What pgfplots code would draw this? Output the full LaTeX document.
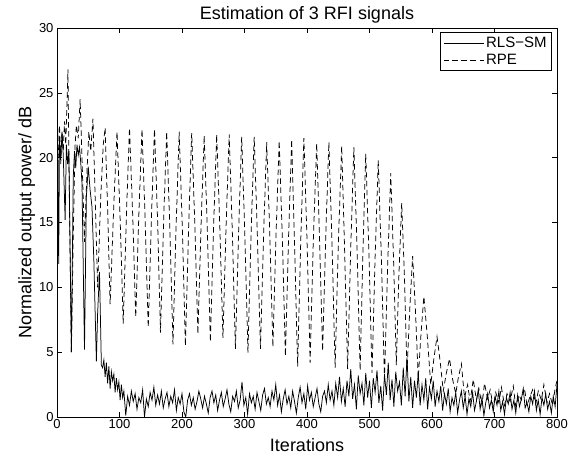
\documentclass[border=0pt]{standalone}
\usepackage{fontspec}
\setmainfont{Liberation Sans}
\usepackage{pgfplots}
\usepackage{pgfplotstable}
\pgfplotsset{compat=1.18}

\pgfplotstableread{
x y
0 28.4
2.7 11.8
4 21.5
6 19.8
8 22.0
10 20.2
13 15.2
15 21.0
17 19.5
19 20.5
23 5.0
26 18.5
28 20.5
30 19.2
32 21.0
34 20.2
36 20.8
38 19.6
40 18.0
44 5.2
47 17.0
50 19.3
53 17.5
56 16.2
59 12.0
63 4.3
65 8.0
68 11.2
71 4.0
73 3.8
75 4.4
77 3.1
79 4.2
81 2.6
83 3.9
85 2.2
87 3.5
89 2.8
91 3.3
93 1.9
95 3.0
97 2.1
99 2.7
101 1.3
103 2.5
105 1.5
107 2.0
110 0.1
113 1.6
116 0.9
119 2.0
122 1.2
125 1.8
128 0.6
131 1.5
134 1.1
137 2.1
140 0.0
143 1.4
146 0.8
149 1.9
152 1.3
155 2.3
158 0.9
161 1.7
164 1.0
167 2.0
170 0.7
173 1.4
176 1.9
179 0.8
182 1.6
185 1.1
188 2.1
191 0.5
194 1.5
197 1.0
200 1.8
203 0.4
206 0.0
209 1.3
212 1.8
215 0.9
218 1.5
221 0.6
224 1.2
227 2.0
230 1.4
233 0.7
236 1.6
239 1.0
242 0.3
245 1.5
248 2.0
251 1.1
254 1.7
257 0.5
260 1.3
263 1.9
266 0.8
269 1.4
272 2.1
275 1.0
278 0.4
281 1.6
284 1.2
287 2.0
290 0.7
293 1.3
296 2.7
299 0.9
302 1.5
305 0.2
308 1.8
311 1.1
314 1.6
317 0.6
320 1.9
323 1.2
326 0.5
329 1.7
332 2.2
335 1.0
338 1.5
341 0.8
344 2.0
347 1.3
350 2.5
353 0.9
356 1.7
359 0.4
362 1.4
365 2.1
368 1.0
371 1.6
374 0.7
377 2.0
380 1.2
383 0.3
386 1.5
389 2.3
392 1.1
395 1.8
398 0.6
401 2.4
404 1.3
407 1.9
410 0.8
413 1.5
416 2.2
419 1.0
422 0.4
425 1.6
428 2.0
431 1.1
434 2.5
437 1.3
440 2.0
443 0.9
446 2.6
449 1.5
452 3.1
455 1.2
458 2.2
461 0.8
464 2.8
467 1.6
470 3.7
473 1.4
476 2.5
479 0.6
482 3.2
485 1.8
488 2.6
491 0.9
494 3.4
497 1.5
500 2.8
503 0.7
506 3.0
509 1.9
512 3.6
515 1.1
518 2.4
521 0.5
524 3.3
527 1.7
530 4.2
533 1.3
536 2.9
539 0.8
542 3.5
545 2.0
548 2.7
551 0.9
554 3.8
557 1.6
560 4.6
563 1.2
566 3.1
569 0.7
572 2.8
575 1.5
578 3.4
581 0.9
584 2.5
587 1.3
590 3.0
593 0.6
596 2.3
599 1.4
602 2.8
605 0.8
608 2.0
611 1.2
614 2.4
617 0.5
620 1.8
623 1.0
626 2.2
629 0.4
632 1.5
635 0.9
638 1.9
641 0.3
644 1.3
647 2.0
650 0.7
653 1.6
656 0.2
659 1.4
662 0.8
665 1.9
668 0.5
671 1.2
674 2.1
677 0.6
680 1.5
683 0.1
686 1.1
689 1.8
692 0.7
695 1.3
698 0.4
701 1.6
704 0.9
707 2.0
710 0.5
713 1.2
716 0.2
719 1.5
722 1.0
725 1.9
728 0.6
731 1.3
734 0.3
737 1.7
740 0.8
743 1.4
746 2.2
749 0.7
752 1.1
755 0.4
758 1.6
761 1.0
764 2.0
767 0.5
770 1.3
773 0.2
776 1.5
779 0.9
782 1.8
785 0.6
788 1.2
791 0.3
794 1.6
797 0.8
800 2.5
}\rlssm

\pgfplotstableread{
x y
0 21.5
2 20.0
4 22.5
6 19.5
8 22.0
10 20.5
12 22.8
14 21.0
17.5 26.8
20 16.0
23 5.0
26 14.0
29 21.0
31 22.5
34 21.5
37 24.5
40 20.0
44 13.5
48 19.0
51 22.0
54 20.5
57.5 23.0
61 17.0
65 10.0
70 17.0
74 21.0
77 22.3
81 16.0
85 8.7
91 16.5
96 22.0
101 15.3
106 7.2
111 15.5
116 22.3
121 15.7
126 7.7
131 15.7
136 22.2
141 15.3
146 6.9
151 15.3
156 22.2
161 15.1
165.5 6.5
170.5 15.0
175.5 22.0
180.5 14.6
185.5 5.6
190.5 14.6
195.5 22.0
200.5 14.6
205.5 5.5
210.5 14.5
215.5 21.9
220.5 14.9
225.5 6.4
230.5 14.8
235.5 21.7
240.5 14.5
245.5 5.8
250.5 14.6
255.5 21.8
260.5 14.7
265.5 6.1
270.5 14.7
275.5 21.8
280.5 14.35
285.5 5.25
290.5 14.2
295.5 21.6
300.5 14.1
305.5 4.96
310.5 14.1
315.5 21.6
320.5 14.2
325.5 5.25
330.5 14.0
335.5 21.2
340.5 14.1
345.5 5.4
350.5 14.1
355.5 21.3
360.5 13.8
365.5 4.7
370.5 13.9
375.5 21.4
380 13.5
385 3.9
390 13.6
395 21.5
400 13.7
405 4.2
410 13.5
415.5 21.1
420 13.9
425 5.1
430 14.0
435 21.2
440 13.4
445 3.8
450 13.2
455.5 20.9
460 13.2
465 3.7
470 13.1
475 20.8
480 13.1
485 3.6
489.5 12.8
494 20.3
499 12.7
504 3.4
509 12.4
514 19.8
519 12.2
524 2.9
529 11.6
534 18.8
538.5 12.1
543 4.0
547 10.9
551.5 16.5
556 10.7
560 3.5
564.5 8.4
569 12.4
573.5 8.2
578 3.0
582.5 6.5
587 9.3
592.5 6.2
598 2.5
603 4.5
608 6.2
613 4.3
618 2.0
623 3.4
628 4.5
633 2.9
638 1.8
642 3.0
647 4.1
652 1.5
657 2.5
661 1.2
666 2.9
671 1.3
675 2.2
680 0.9
684 2.6
689 1.4
693 2.1
698 0.8
702 1.9
707 1.1
711 2.3
716 0.9
720 1.8
725 1.2
730 2.4
734 0.8
739 1.7
743 1.3
748 2.2
752 0.9
757 1.6
761 2.1
766 1.0
770 2.0
775 1.3
779 2.5
784 1.1
788 1.8
793 0.9
797 2.2
800 2.8
}\rpe

\begin{document}
\begin{tikzpicture}
\begin{axis}[
  width=500bp, height=389bp, scale only axis,
  xmin=0, xmax=800, ymin=0, ymax=30,
  xtick={0,100,...,800}, ytick={0,5,...,30},
  tick align=inside, major tick length=5bp,
  xtick pos=both, ytick pos=both,
  /pgf/number format/assume math mode=true,
  tick label style={font=\fontsize{13bp}{15bp}\selectfont},
  xticklabel style={yshift=1bp},
  title={Estimation of 3 RFI signals},
  title style={font=\fontsize{18bp}{20bp}\selectfont, yshift=-5bp},
  xlabel={Iterations},
  ylabel={Normalized output power/ dB},
  label style={font=\fontsize{18bp}{20bp}\selectfont},
  xlabel style={yshift=-3bp},
  ylabel style={yshift=-3bp},
  axis line style={line width=0.6bp},
  every tick/.style={black, line width=0.6bp},
  legend style={at={(1,1)}, anchor=north east, xshift=-5bp, yshift=-4.5bp,
    draw=black, line width=0.9bp, font=\fontsize{15bp}{17bp}\selectfont,
    inner ysep=2bp, row sep=1.5bp},
  legend cell align=left,
  legend image code/.code={\path (0bp,0bp) -- (40bp,0bp); \draw[#1, line width=0.6bp] (8bp,0bp) -- (34bp,0bp);},
]
\addplot[black, line width=0.75bp] table[x=x, y=y] {\rlssm};
\addlegendentry{RLS−SM}
\addplot[black, line width=0.75bp, dash pattern=on 5.5bp off 3.5bp] table[x=x, y=y] {\rpe};
\addlegendentry{RPE}
\end{axis}
\pgfresetboundingbox
\path[use as bounding box] ([shift={(-57bp,-46bp)}]current axis.south west) rectangle ([shift={(15bp,28bp)}]current axis.north east);
\end{tikzpicture}
\end{document}
